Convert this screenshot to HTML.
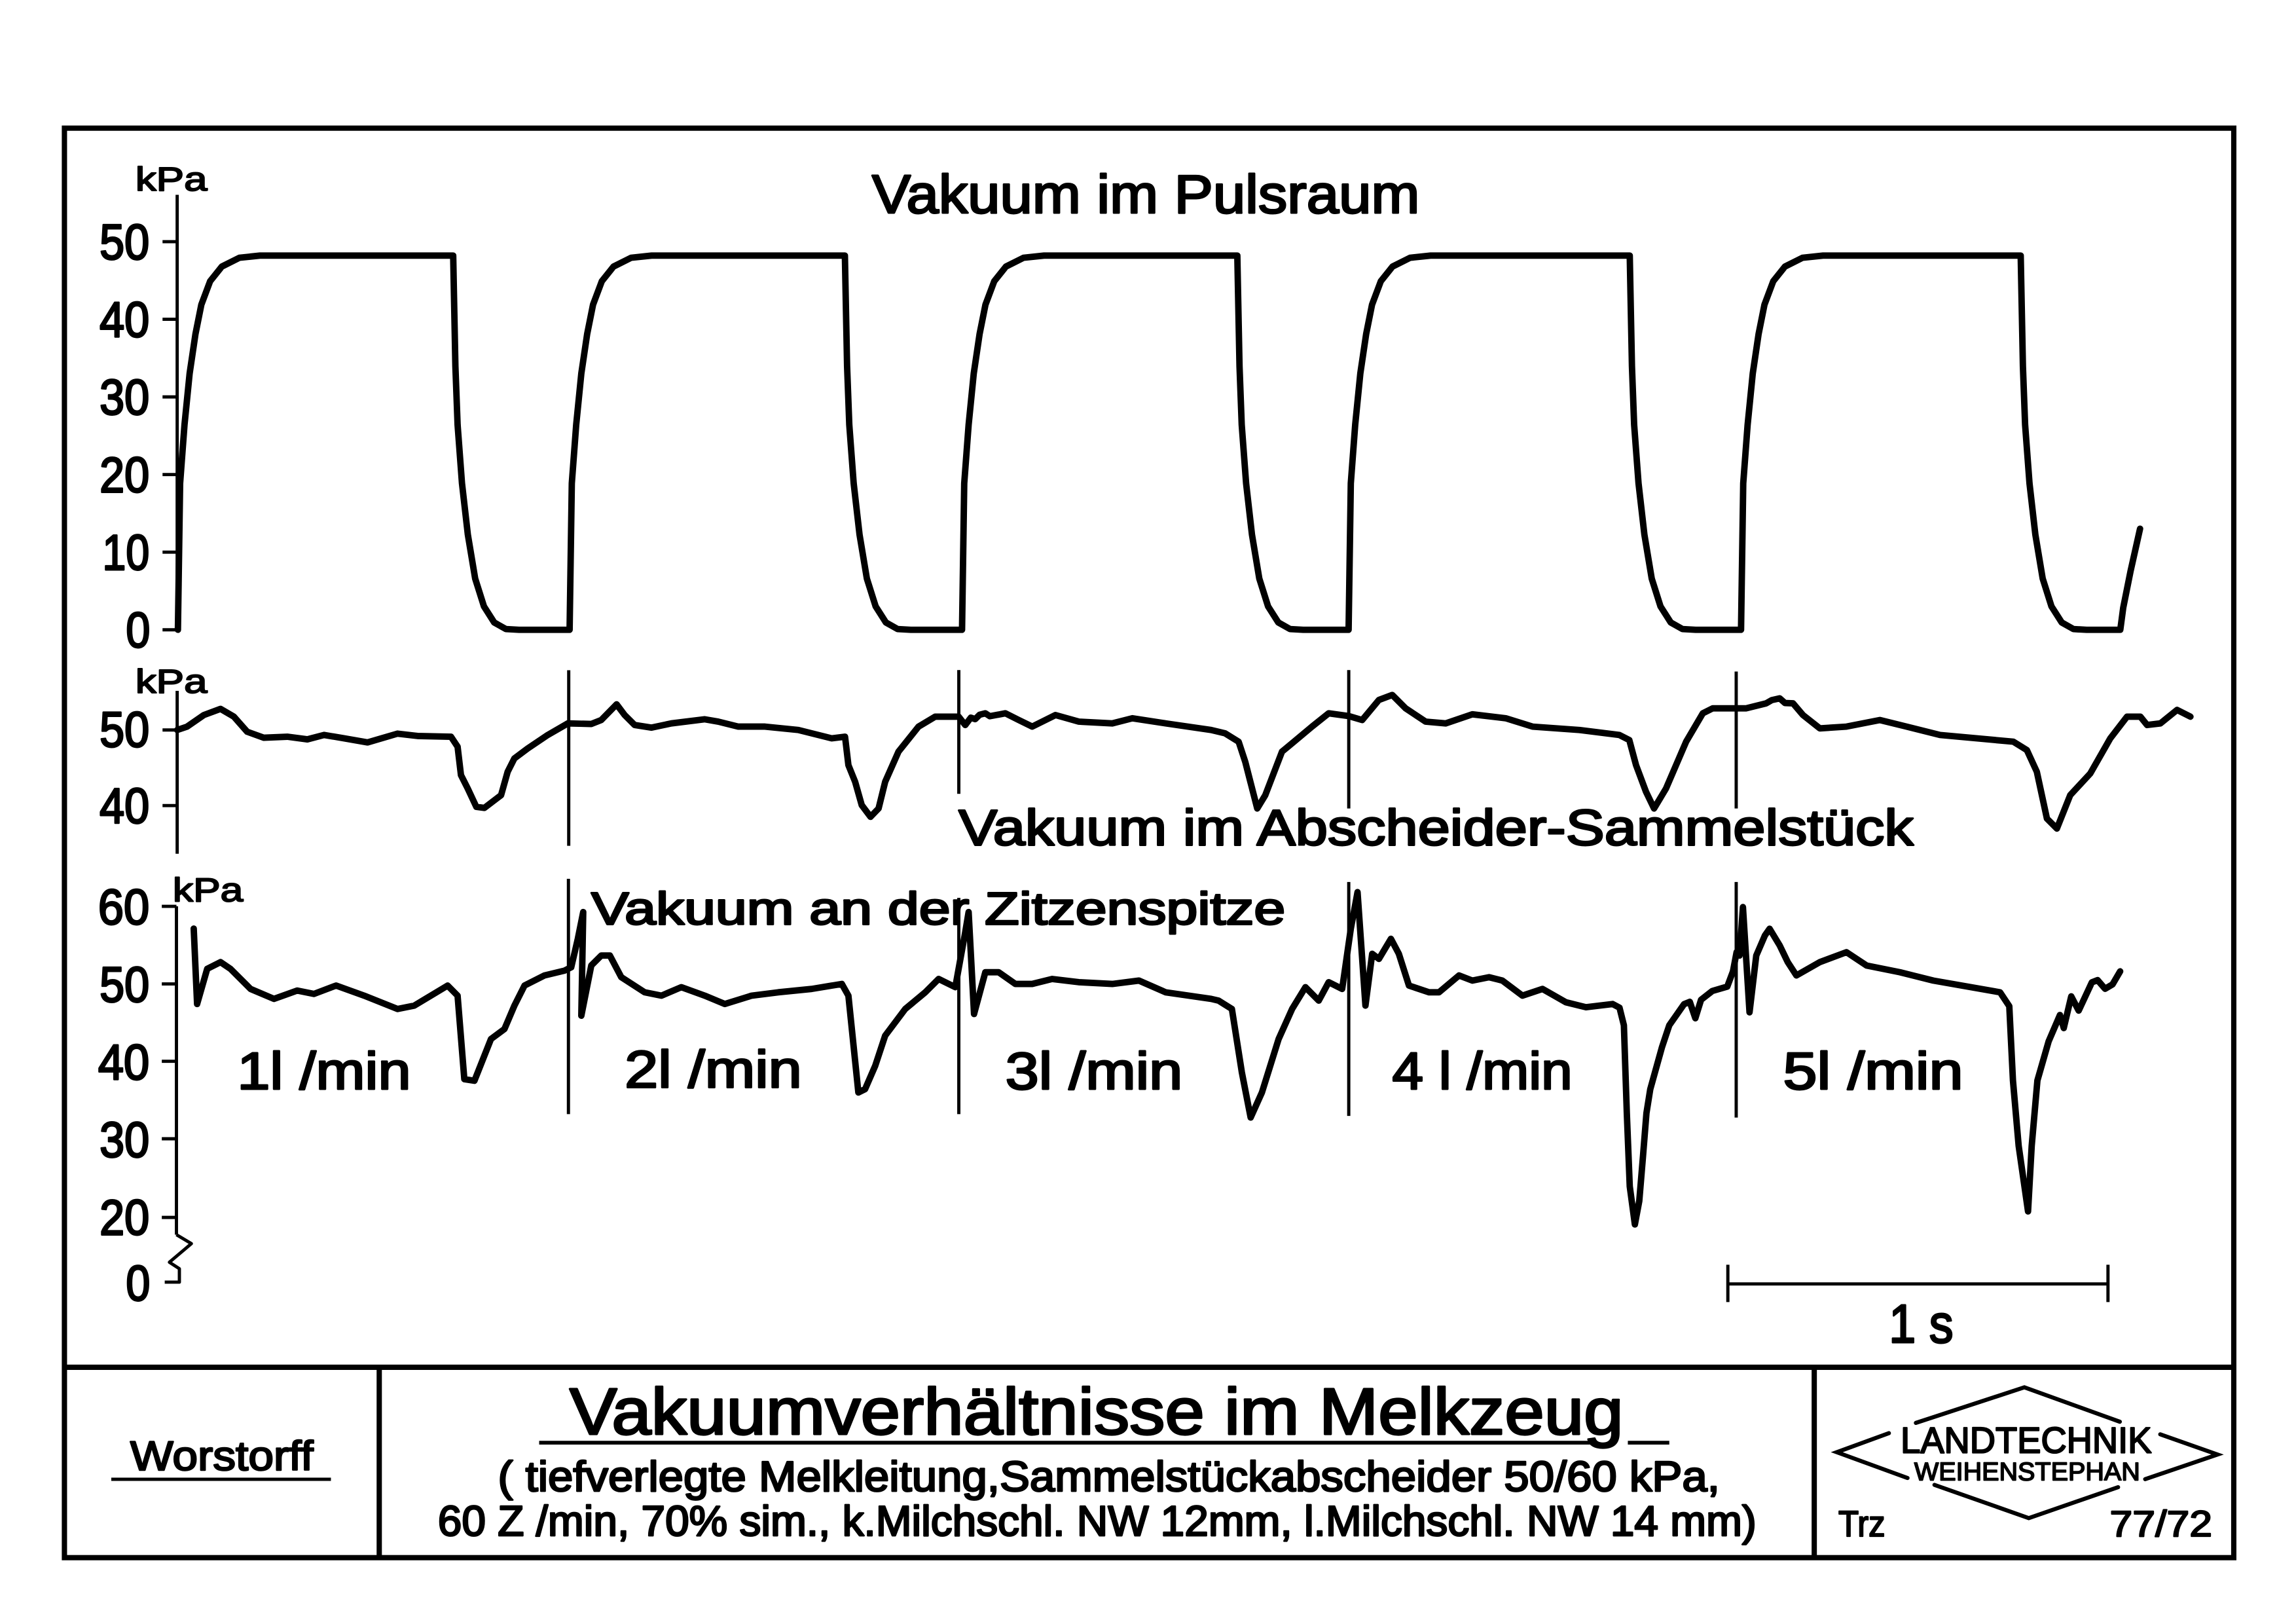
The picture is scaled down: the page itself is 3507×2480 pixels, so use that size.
<!DOCTYPE html>
<html>
<head>
<meta charset="utf-8">
<style>
html,body{margin:0;padding:0;background:#fff;}
svg{display:block;}
text{font-family:"Liberation Sans","DejaVu Sans",sans-serif;}
</style>
</head>
<body>
<svg width="3507" height="2480" viewBox="0 0 1568 1108.8" preserveAspectRatio="none" xmlns="http://www.w3.org/2000/svg">
<rect x="0" y="0" width="1568" height="1108.8" fill="#ffffff"/>

<!-- Frame -->
<g fill="none" stroke="#000" stroke-width="3.6" stroke-linejoin="miter">
  <rect x="44" y="87.5" width="1481.5" height="976"/>
  <line x1="44" y1="933.5" x2="1525.5" y2="933.5"/>
  <line x1="259" y1="933.5" x2="259" y2="1063.5"/>
  <line x1="1239" y1="933.5" x2="1239" y2="1063.5"/>
</g>

<!-- Axes -->
<g fill="none" stroke="#000" stroke-width="2.2" stroke-linecap="butt">
  <line x1="121" y1="133" x2="121" y2="430"/>
  <line x1="111" y1="165" x2="121" y2="165"/>
  <line x1="111" y1="218" x2="121" y2="218"/>
  <line x1="111" y1="271" x2="121" y2="271"/>
  <line x1="111" y1="324" x2="121" y2="324"/>
  <line x1="111" y1="377" x2="121" y2="377"/>
  <line x1="111" y1="430" x2="121" y2="430"/>
  <line x1="121" y1="471.7" x2="121" y2="582.9"/>
  <line x1="111" y1="498.4" x2="121" y2="498.4"/>
  <line x1="111" y1="550" x2="121" y2="550"/>
  <line x1="120.5" y1="618.8" x2="120.5" y2="843"/>
  <line x1="110.5" y1="618.8" x2="120.5" y2="618.8"/>
  <line x1="110.5" y1="671.8" x2="120.5" y2="671.8"/>
  <line x1="110.5" y1="724.6" x2="120.5" y2="724.6"/>
  <line x1="110.5" y1="777.5" x2="120.5" y2="777.5"/>
  <line x1="110.5" y1="831.2" x2="120.5" y2="831.2"/>
  <polyline points="120.5,843 130.7,849.1 115.7,861.8 122.5,866.2 122.5,875.4 112.5,875.4" stroke-linejoin="round"/>

  <line x1="388.4" y1="457.6" x2="388.4" y2="577.5"/>
  <line x1="654.8" y1="457.5" x2="654.8" y2="542"/>
  <line x1="921.1" y1="457.5" x2="921.1" y2="552"/>
  <line x1="1185.7" y1="458.5" x2="1185.7" y2="552"/>
  <line x1="388.2" y1="600" x2="388.2" y2="760.7"/>
  <line x1="654.8" y1="613" x2="654.8" y2="760.7"/>
  <line x1="921.1" y1="602.2" x2="921.1" y2="761.9"/>
  <line x1="1185.7" y1="602.2" x2="1185.7" y2="763"/>

  <line x1="1180" y1="876.6" x2="1439.6" y2="876.6"/>
  <line x1="1180" y1="863.5" x2="1180" y2="889"/>
  <line x1="1439.6" y1="863.5" x2="1439.6" y2="889"/>
</g>

<!-- Curves -->
<g fill="none" stroke="#000" stroke-width="4.4" stroke-linecap="round" stroke-linejoin="round">
  <path d="M121.5,430 L123,330 L126,290 L129.5,255 L133.5,228 L137.5,208 L143.5,192 L151.5,182 L163.5,176 L177.5,174.5 L309.5,174.5
  L310,200 L311,250 L312.5,290 L315.5,330 L319.5,365 L324.5,395 L330.5,414 L337.5,425 L345.5,429.5 L354.5,430 L389,430
  L390.5,330 L393.5,290 L397,255 L401,228 L405,208 L411,192 L419,182 L431,176 L445,174.5 L577,174.5
  L577.5,200 L578.5,250 L580,290 L583,330 L587,365 L592,395 L598,414 L605,425 L613,429.5 L622,430 L657,430
  L658.5,330 L661.5,290 L665,255 L669,228 L673,208 L679,192 L687,182 L699,176 L713,174.5 L845,174.5
  L845.5,200 L846.5,250 L848,290 L851,330 L855,365 L860,395 L866,414 L873,425 L881,429.5 L890,430 L921,430
  L922.5,330 L925.5,290 L929,255 L933,228 L937,208 L943,192 L951,182 L963,176 L977,174.5 L1113,174.5
  L1113.5,200 L1114.5,250 L1116,290 L1119,330 L1123,365 L1128,395 L1134,414 L1141,425 L1149,429.5 L1158,430 L1189,430
  L1190.5,330 L1193.5,290 L1197,255 L1201,228 L1205,208 L1211,192 L1219,182 L1231,176 L1245,174.5 L1380,174.5
  L1380.5,200 L1381.5,250 L1383,290 L1386,330 L1390,365 L1395,395 L1401,414 L1408,425 L1416,429.5 L1425,430 L1448,430
  L1450,415 L1455,390 L1461.5,361"/>

  <polyline points="121,498.4 127.8,496.1 139.2,488.2 150.6,484 159.7,489.3 168.8,499.6 180.2,503.7 196.2,503 209.9,504.8 221.3,501.8 235,504.1 251,506.9 271.5,500.9 285.2,502.5 308,503 312.5,509.8 314.8,529.2 319.4,538.3 325.3,550.9 330.8,551.6 342.2,542.9 346.7,526.9 351.3,517.8 360.4,511 374.1,501.8 387.8,493.9 403.8,494.3 410.6,491.6 421.1,480.9 426.6,488.2 433.4,495 444.8,496.8 458.5,493.9 481.3,491.1 490.5,492.7 504.2,496.1 522.4,496.1 545.2,498.4 568,504.1 577.1,503 579.4,522.4 584,533.8 588.5,549.7 594.5,557.7 600,552 604.5,533.8 613.6,513.2 627.3,496.1 638.7,489.3 654.7,489.3 659.2,495 663,490 666,491 669,488 672.9,487 676,489 686.6,487 695.7,491.6 704.9,496.1 720.8,488.2 736.8,492.7 759.6,493.9 773.3,490.4 796.1,493.9 827.1,498.4 836.7,500.7 845.9,506.4 850.4,520.1 858.6,552 864.1,542.9 875.5,513.2 882.4,507.5 896,496.1 907.4,487 921.1,488.9 930.3,491.6 941.7,477.9 950.8,474.5 959.9,483.6 973.6,492.7 987.3,493.9 1005.5,487.7 1028.3,490.4 1046.6,496.1 1078.5,498.4 1105.9,501.8 1112.7,505.3 1117.3,522.4 1124.1,540.6 1129.6,552 1137.8,538.3 1151.5,506.4 1162.9,487 1169.7,483.6 1192.6,483.6 1206.2,480.2 1210,478 1215.4,476.8 1219,480 1224.5,480.2 1231.3,488.2 1242.8,497.3 1261,496.1 1283.8,491.6 1302.1,496.1 1324.9,501.8 1375,506.4 1384.2,512.1 1391,526.9 1397.9,558.9 1404.7,565.7 1413.8,542.9 1427.5,528.1 1441.2,504.1 1452.6,489.3 1461.7,489.3 1466.3,495 1475.4,493.9 1486.8,484.7 1495.9,489.3"/>

  <polyline points="132.3,634 134.6,685.5 141.5,661.5 150.6,656.9 157.4,661.5 171.1,675.2 187.1,682 203,676.3 214.4,678.6 229.5,672.9 248.7,679.8 271.5,688.9 282.9,686.6 305.7,672.9 312.5,679.8 317.1,736.8 324,737.9 335.3,709.4 344.5,702.6 351.3,686.6 358.2,672.9 371.8,666 385.5,662.7 390.1,660.4 394.6,641 398.3,622.7 397,693.5 403.8,659.2 410.6,652.4 416.5,652.4 424.3,667.2 440.3,677.5 451.7,679.8 465.3,674 481.3,679.8 495,685.5 513.3,679.8 531.5,677.5 554.3,675.2 574.9,671.8 579.4,679.8 586.2,745.9 590.8,743.6 597.7,727.7 604.5,707.1 618.2,688.9 631.9,677.5 641,668.4 652.4,674 659.2,636.4 661.5,622.7 665.2,692.3 672.9,663.8 682,663.8 693.4,671.8 704.9,671.8 718.5,668.4 736.8,670.6 759.6,671.8 777.8,669.5 796.1,677.5 827.1,682 832.2,683.2 841.3,688.9 848.1,732.2 854.1,763 861.8,745.9 873.2,709.4 882.4,688.9 891.5,674 900.6,683.2 907.4,670.6 916.6,675.2 922.5,634.1 927.1,609.1 932.5,686.6 937.1,651.2 941.7,654.7 949.9,641 955.3,651.2 962.2,672.9 975.9,677.5 982.7,677.5 996.4,666 1005.5,669.5 1016.9,667.2 1026,669.5 1039.7,679.8 1053.4,675.2 1069.4,684.3 1083.1,687.7 1101.3,685.5 1106,688 1109,700 1111,760 1113,810 1116.5,836 1119.5,820 1122,790 1124.4,760 1127,743.7 1135,715 1140,700 1150.1,685.6 1154,684 1157.8,695.2 1161.7,682.6 1169.4,676.6 1179.6,673.6 1183.5,663.2 1186,650 1188,652.4 1190.3,619.3 1194.8,691.2 1199.4,652.4 1205.3,638.7 1208.5,634.1 1215.4,645.5 1220.9,656.9 1226.8,666 1242.8,656.9 1261,650.1 1274.7,659.2 1297.5,663.8 1320.3,669.5 1365.9,677.5 1372.2,687 1374.7,737.7 1378.6,782.4 1385,827.1 1387.5,782.4 1391.4,737.7 1399.1,710.9 1406.8,693 1409.4,701.9 1414.5,680.3 1419.6,690 1428.6,670.7 1432.5,669.2 1437.6,675.1 1442.7,672.1 1447.9,663.2"/>
</g>

<!-- Title block lines -->
<g fill="none" stroke="#000" stroke-linecap="butt">
  <line x1="368.2" y1="985" x2="1089.8" y2="985" stroke-width="2.6"/>
  <line x1="1111.7" y1="985" x2="1140" y2="985" stroke-width="2.6"/>
  <line x1="76" y1="1010" x2="226" y2="1010" stroke-width="2.2"/>
  <g stroke-width="2.8" stroke-linejoin="miter" stroke-linecap="round">
    <polyline points="1308.4,971.5 1382.5,947.2 1447.7,970.7"/>
    <polyline points="1290,978.5 1254.4,991.5 1302.7,1009.1"/>
    <polyline points="1321.1,1013.8 1385.5,1036.5 1446.5,1015.4"/>
    <polyline points="1475.3,979.3 1514.4,993.1 1465,1009.9"/>
  </g>
</g>

<!-- Text -->
<g fill="#000" stroke="#000" stroke-width="1.3" stroke-linejoin="round">
  <text x="92.5" y="130" font-size="23" textLength="49" lengthAdjust="spacingAndGlyphs" stroke-width="0.9">kPa</text>
  <text x="92.5" y="473" font-size="23" textLength="49" lengthAdjust="spacingAndGlyphs" stroke-width="0.9">kPa</text>
  <text x="118" y="615.5" font-size="23" textLength="48" lengthAdjust="spacingAndGlyphs" stroke-width="0.9">kPa</text>

  <g font-size="34">
    <text x="68" y="177" textLength="34" lengthAdjust="spacingAndGlyphs">50</text>
    <text x="68" y="230" textLength="34" lengthAdjust="spacingAndGlyphs">40</text>
    <text x="68" y="283" textLength="34" lengthAdjust="spacingAndGlyphs">30</text>
    <text x="68" y="336" textLength="34" lengthAdjust="spacingAndGlyphs">20</text>
    <text x="70" y="389" textLength="32" lengthAdjust="spacingAndGlyphs">10</text>
    <text x="86" y="442" textLength="16.5" lengthAdjust="spacingAndGlyphs">0</text>
    <text x="68" y="510" textLength="34" lengthAdjust="spacingAndGlyphs">50</text>
    <text x="68" y="562" textLength="34" lengthAdjust="spacingAndGlyphs">40</text>
    <text x="67" y="631" textLength="35" lengthAdjust="spacingAndGlyphs">60</text>
    <text x="68" y="684" textLength="34" lengthAdjust="spacingAndGlyphs">50</text>
    <text x="67" y="737" textLength="35" lengthAdjust="spacingAndGlyphs">40</text>
    <text x="68" y="790" textLength="34" lengthAdjust="spacingAndGlyphs">30</text>
    <text x="68" y="843" textLength="34" lengthAdjust="spacingAndGlyphs">20</text>
    <text x="86" y="888" textLength="16.5" lengthAdjust="spacingAndGlyphs">0</text>
  </g>

  <text x="595.5" y="145.3" font-size="37" textLength="374" lengthAdjust="spacingAndGlyphs">Vakuum im Pulsraum</text>
  <text x="654.7" y="577" font-size="34.5" textLength="652" lengthAdjust="spacingAndGlyphs">Vakuum im Abscheider-Sammelstück</text>
  <text x="403.8" y="631" font-size="31" textLength="474" lengthAdjust="spacingAndGlyphs">Vakuum an der Zitzenspitze</text>

  <text x="162" y="743.6" font-size="35.5" textLength="118.6" lengthAdjust="spacingAndGlyphs">1l /min</text>
  <text x="426.6" y="742.5" font-size="35.5" textLength="121" lengthAdjust="spacingAndGlyphs">2l /min</text>
  <text x="686.6" y="743.6" font-size="35.5" textLength="121" lengthAdjust="spacingAndGlyphs">3l /min</text>
  <text x="950.8" y="743.6" font-size="35.5" textLength="123" lengthAdjust="spacingAndGlyphs">4 l /min</text>
  <text x="1217.7" y="743.6" font-size="35.5" textLength="123" lengthAdjust="spacingAndGlyphs">5l /min</text>

  <text x="1290" y="916.6" font-size="37" textLength="44" lengthAdjust="spacingAndGlyphs">1 s</text>

  <text x="89" y="1003.8" font-size="28" textLength="125" lengthAdjust="spacingAndGlyphs" stroke-width="1.1">Worstorff</text>
  <text x="389" y="979.2" font-size="45" textLength="719.6" lengthAdjust="spacingAndGlyphs" stroke-width="1.4">Vakuumverhältnisse im Melkzeug</text>
  <text x="340" y="1018" font-size="29" textLength="834.5" lengthAdjust="spacingAndGlyphs" stroke-width="1.2">( tiefverlegte Melkleitung,Sammelstückabscheider  50/60 kPa,</text>
  <text x="299" y="1048.5" font-size="29" textLength="900.5" lengthAdjust="spacingAndGlyphs" stroke-width="1.2">60 Z /min, 70% sim., k.Milchschl. NW 12mm, l.Milchschl. NW 14 mm)</text>

  <text x="1298" y="991.8" font-size="25" textLength="171.4" lengthAdjust="spacingAndGlyphs" stroke-width="1">LANDTECHNIK</text>
  <text x="1307.3" y="1010.7" font-size="17.5" textLength="154.2" lengthAdjust="spacingAndGlyphs" stroke-width="0.8">WEIHENSTEPHAN</text>
  <text x="1255.5" y="1049" font-size="25" textLength="32" lengthAdjust="spacingAndGlyphs" stroke-width="1">Trz</text>
  <text x="1440.8" y="1049" font-size="25" textLength="70" lengthAdjust="spacingAndGlyphs" stroke-width="1">77/72</text>
</g>
</svg>
</body>
</html>
